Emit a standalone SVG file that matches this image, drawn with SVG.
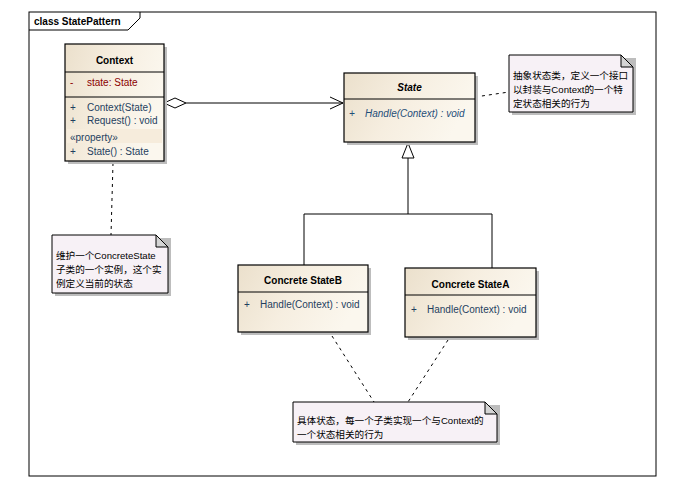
<svg xmlns="http://www.w3.org/2000/svg" width="678" height="489" viewBox="0 0 678 489">
<defs>
<linearGradient id="cls" x1="0" y1="0" x2="1" y2="0.3">
<stop offset="0" stop-color="#EBE0CC"/>
<stop offset="0.5" stop-color="#F6EEE0"/>
<stop offset="1" stop-color="#FBF7EE"/>
</linearGradient>
<marker id="open" markerWidth="14" markerHeight="14" refX="13" refY="7" orient="auto" markerUnits="userSpaceOnUse">
<path d="M0,1 L13,7 L0,13" fill="none" stroke="#000" stroke-width="1"/>
</marker>
</defs>
<style>
.frame{fill:#fff;stroke:#000;stroke-width:1}
.box{fill:url(#cls);stroke:#000;stroke-width:1.2}
.shadow{fill:#BDBDBD}
.line{stroke:#000;stroke-width:1;fill:none}
.dash{stroke:#000;stroke-width:1;fill:none;stroke-dasharray:3,4}
.note{fill:#F7F1F6;stroke:#000;stroke-width:1}
.fold{fill:#D4D4D4;stroke:#000;stroke-width:1}
text{font-family:"Liberation Sans",Arial,"Noto Sans CJK SC",sans-serif;font-size:10px}
.title{font-weight:bold;text-anchor:middle;fill:#000}
.attr{fill:#8B0000}
.op{fill:#1F3F5F}
.it{font-style:italic;fill:#1F4E79}
.cjk{font-family:"Liberation Sans","Noto Sans CJK SC",sans-serif;font-size:9.6px;fill:#000}
</style>
<rect x="0" y="0" width="678" height="489" fill="#fff"/>
<g id="frame">
<rect class="frame" x="29" y="12" width="627" height="464"/>
<path class="line" d="M29,30 L128,30 L140,18 L140,12"/>
<text x="34" y="25" style="font-weight:bold;font-size:10px">class StatePattern</text>
</g>
<g id="connectors">
<line class="line" x1="186" y1="103" x2="343" y2="103" marker-end="url(#open)"/>
<path d="M164,103 L175,98 L186,103 L175,108 Z" fill="#fff" stroke="#000" stroke-width="1"/>
<path class="line" d="M408,158 L408,214 M304,214 L492,214 M304,214 L304,265 M492,214 L492,268"/>
<path d="M408,143 L402,158 L414,158 Z" fill="#fff" stroke="#000" stroke-width="1"/>
<line class="dash" x1="475" y1="97" x2="509" y2="92"/>
<line class="dash" x1="113" y1="163" x2="111" y2="235"/>
<line class="dash" x1="332" y1="336" x2="374" y2="402"/>
<line class="dash" x1="448" y1="340" x2="408" y2="402"/>
</g>
<g id="Context">
<rect class="shadow" x="68" y="47" width="99" height="117"/>
<rect class="box" x="65" y="44" width="99" height="117"/>
<line class="line" x1="65" y1="72" x2="164" y2="72"/>
<line class="line" x1="65" y1="97" x2="164" y2="97"/>
<rect x="67" y="129" width="95" height="14" fill="#F6ECDC"/>
<text class="title" x="114.5" y="64">Context</text>
<text class="attr" x="70" y="86">-</text>
<text class="attr" x="87" y="86">state:  State</text>
<text class="op" x="70" y="111">+</text>
<text class="op" x="87" y="111">Context(State)</text>
<text class="op" x="70" y="124">+</text>
<text class="op" x="87" y="124">Request() : void</text>
<text class="op" x="70" y="141">«property»</text>
<text class="op" x="70" y="155">+</text>
<text class="op" x="87" y="155">State() : State</text>
</g>
<g id="State">
<rect class="shadow" x="347" y="76" width="131" height="69"/>
<rect class="box" x="344" y="73" width="131" height="69"/>
<line class="line" x1="344" y1="99" x2="475" y2="99"/>
<text class="title" x="409.5" y="91" font-style="italic">State</text>
<text class="it" x="349" y="117">+</text>
<text class="it" x="365" y="117">Handle(Context) : void</text>
</g>
<g id="ConcreteStateB">
<rect class="shadow" x="241" y="268" width="130" height="67"/>
<rect class="box" x="238" y="265" width="130" height="67"/>
<line class="line" x1="238" y1="292" x2="368" y2="292"/>
<text class="title" x="303" y="284">Concrete StateB</text>
<text class="op" x="244" y="308">+</text>
<text class="op" x="260" y="308">Handle(Context) : void</text>
</g>
<g id="ConcreteStateA">
<rect class="shadow" x="408" y="271" width="131" height="69"/>
<rect class="box" x="405" y="268" width="131" height="69"/>
<line class="line" x1="405" y1="295" x2="536" y2="295"/>
<text class="title" x="470.5" y="288">Concrete StateA</text>
<text class="op" x="411" y="313">+</text>
<text class="op" x="427" y="313">Handle(Context) : void</text>
</g>
<g id="NoteState">
<rect class="shadow" x="512" y="58" width="124" height="57"/>
<path class="note" d="M509,55 L621,55 L633,67 L633,112 L509,112 Z"/>
<path class="fold" d="M621,55 L621,67 L633,67 Z"/>
<text class="cjk" x="513" y="79">抽象状态类，定义一个接口</text>
<text class="cjk" x="513" y="93">以封装与Context的一个特</text>
<text class="cjk" x="513" y="107">定状态相关的行为</text>
</g>
<g id="NoteContext">
<rect class="shadow" x="55" y="238" width="116" height="58"/>
<path class="note" d="M52,235 L156,235 L168,247 L168,293 L52,293 Z"/>
<path class="fold" d="M156,235 L156,247 L168,247 Z"/>
<text class="cjk" x="56" y="259">维护一个ConcreteState</text>
<text class="cjk" x="56" y="273">子类的一个实例，这个实</text>
<text class="cjk" x="56" y="287">例定义当前的状态</text>
</g>
<g id="NoteConcrete">
<rect class="shadow" x="296" y="405" width="204" height="40"/>
<path class="note" d="M293,402 L485,402 L497,414 L497,442 L293,442 Z"/>
<path class="fold" d="M485,402 L485,414 L497,414 Z"/>
<text class="cjk" x="297" y="424">具体状态，每一个子类实现一个与Context的</text>
<text class="cjk" x="297" y="438">一个状态相关的行为</text>
</g>
</svg>
